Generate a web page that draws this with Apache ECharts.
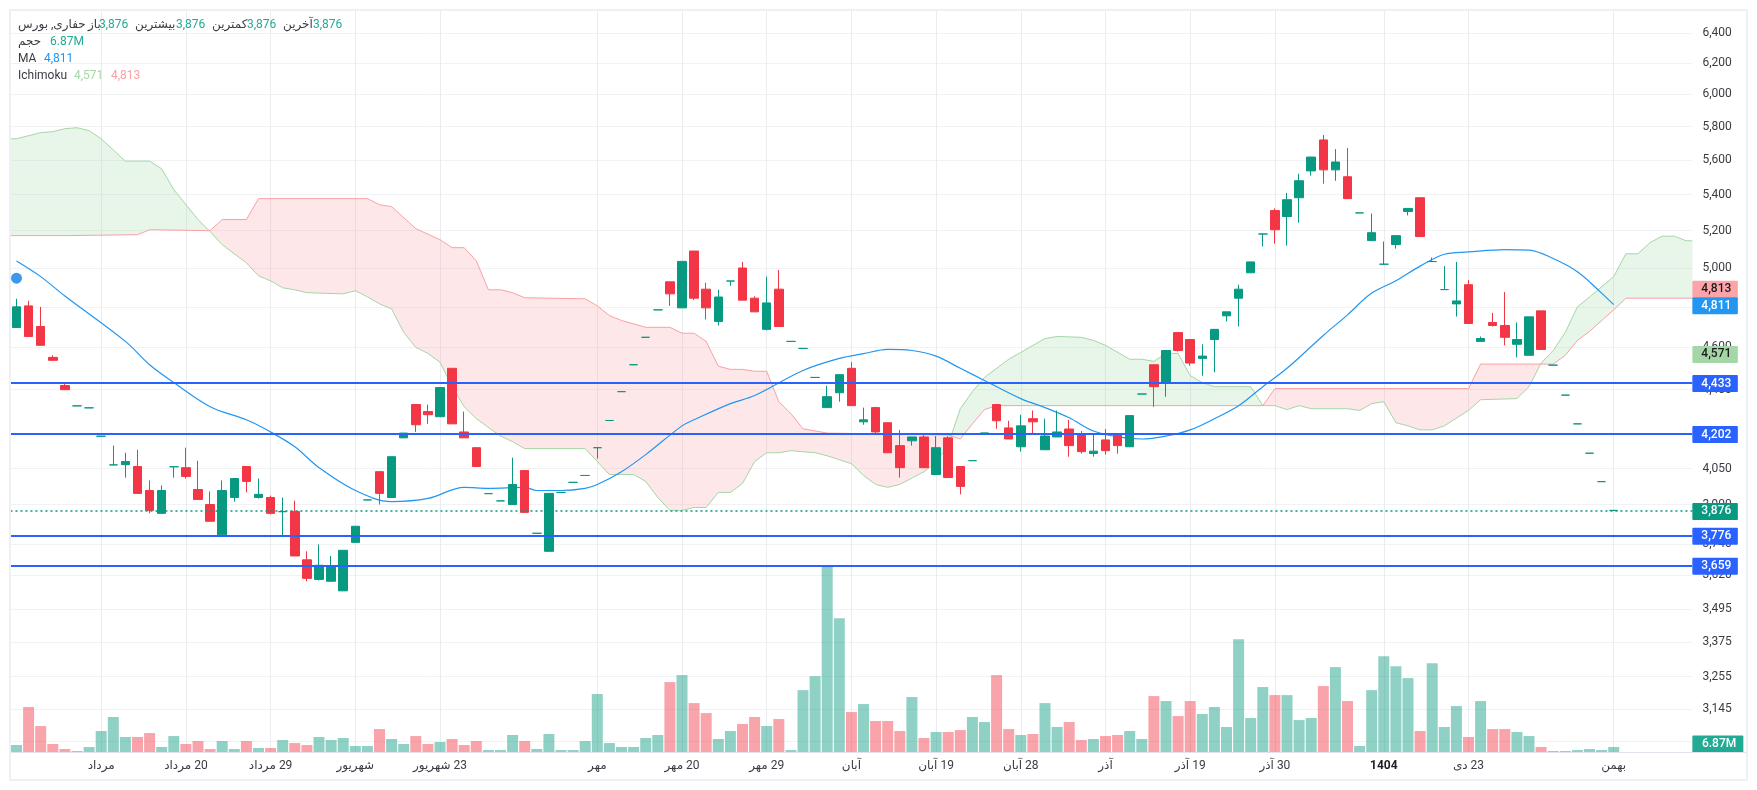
<!DOCTYPE html>
<html dir="rtl">
<head>
<meta charset="utf-8">
<script src="https://cdn.jsdelivr.net/npm/echarts@6.0.0/dist/echarts.min.js"></script>
<style>
  html, body { margin: 0; padding: 0; background: #fff; }
  #chart { width: 1757px; height: 790px; }
</style>
</head>
<body>
<div id="chart"></div>
<script>
// x axis: 139 slots, 133 candles and the rest is cloud running ahead of price
const slotCount = 139
const tickIndex = [7, 14, 21, 28, 35, 48, 55, 62, 69, 76, 83, 90, 97, 104, 113, 120, 132]
const tickLabels = ['مرداد', '20 مرداد', '29 مرداد', 'شهریور', '23 شهریور', 'مهر', '20 مهر', '29 مهر', 'آبان', '19 آبان', '28 آبان', 'آذر', '19 آذر', '30 آذر', '1404', '23 دی', 'بهمن']
const priceTicks = [6400, 6200, 6000, 5800, 5600, 5400, 5200, 5000, 4800, 4600, 4400, 4200, 4050, 3900, 3740, 3620, 3495, 3375, 3255, 3145, 3040]

const opens = [4697, 4805, 4702, 4552, 4419, 4326, 4317, 4190, 4066, 4067, 4059, 3958, 3864, 4058, 4054, 3962, 3900, 3778, 3929, 4059,
  3929, 3929, 3871, 3872, 3680, 3605, 3598, 3562, 3748, 3919, 4037, 3929, 4183, 4332, 4300, 4277, 4500, 4209, 4140, 3945,
  3915, 3900, 4042, 3784, 3713, 3950, 3992, 4021, 4140, 4260, 4391, 4517, 4649, 4785, 4928, 4795, 5090, 4890, 4727, 4932,
  5000, 4844, 4688, 4890, 4629, 4595, 4457, 4318, 4386, 4500, 4254, 4318, 4250, 4149, 4170, 4187, 4025, 4183, 4059, 4084,
  4204, 4332, 4227, 4144, 4268, 4131, 4187, 4222, 4196, 4115, 4174, 4200, 4144, 4380, 4517, 4433, 4672, 4638, 4547, 4638,
  4755, 4844, 4975, 5182, 5311, 5278, 5383, 5537, 5720, 5543, 5503, 5298, 5146, 5020, 5125, 5306, 5383, 5034, 4888, 4815,
  4913, 4629, 4722, 4707, 4615, 4562, 4780, 4515, 4375, 4245, 4116, 3995, 3876]
const closes = [4800, 4653, 4610, 4538, 4400, 4326, 4317, 4190, 4066, 4080, 3946, 3876, 3958, 4058, 4017, 3921, 3832, 3958, 4008, 3996,
  3942, 3864, 3871, 3695, 3609, 3659, 3652, 3717, 3812, 3919, 3946, 4101, 4204, 4241, 4286, 4410, 4245, 4183, 4059, 3945,
  3915, 3983, 3868, 3784, 3946, 3950, 3992, 4021, 4140, 4260, 4391, 4517, 4649, 4785, 4866, 5035, 4844, 4795, 4850, 4932,
  4834, 4775, 4820, 4702, 4629, 4595, 4457, 4368, 4470, 4327, 4263, 4209, 4118, 4054, 4187, 4054, 4140, 4012, 3975, 4084,
  4204, 4259, 4178, 4236, 4254, 4191, 4209, 4149, 4123, 4125, 4127, 4149, 4282, 4380, 4414, 4585, 4585, 4525, 4558, 4688,
  4775, 4890, 5032, 5182, 5205, 5372, 5480, 5618, 5543, 5589, 5378, 5298, 5189, 5020, 5173, 5323, 5168, 5034, 4888, 4830,
  4717, 4643, 4707, 4649, 4638, 4750, 4590, 4515, 4375, 4245, 4116, 3995, 3876]
const lows = [4697, 4653, 4610, 4538, 4400, 4326, 4317, 4190, 4066, 4012, 3946, 3864, 3864, 4012, 4008, 3921, 3832, 3778, 3912, 3950,
  3925, 3860, 3777, 3695, 3598, 3601, 3598, 3562, 3748, 3919, 3900, 3929, 4183, 4209, 4245, 4277, 4245, 4183, 4059, 3945,
  3915, 3900, 3868, 3784, 3713, 3950, 3992, 4021, 4093, 4260, 4391, 4517, 4649, 4785, 4805, 4795, 4834, 4737, 4707, 4908,
  4834, 4775, 4683, 4702, 4629, 4595, 4457, 4318, 4345, 4327, 4241, 4200, 4118, 4012, 4149, 4054, 4025, 4012, 3942, 4084,
  4204, 4223, 4178, 4123, 4200, 4131, 4187, 4101, 4114, 4101, 4110, 4114, 4144, 4380, 4322, 4368, 4580, 4512, 4465, 4481,
  4727, 4702, 4975, 5114, 5130, 5119, 5244, 5509, 5463, 5480, 5378, 5298, 5146, 5020, 5103, 5284, 5168, 5034, 4888, 4751,
  4717, 4629, 4702, 4610, 4552, 4562, 4590, 4515, 4375, 4245, 4116, 3995, 3876]
const highs = [4841, 4831, 4800, 4562, 4428, 4326, 4317, 4190, 4149, 4118, 4131, 4000, 3979, 4058, 4140, 4084, 3954, 4000, 4008, 4059,
  4008, 3937, 3929, 3916, 3713, 3740, 3695, 3717, 3812, 3919, 4037, 4101, 4204, 4332, 4332, 4410, 4500, 4300, 4140, 3945,
  3915, 4097, 4042, 3784, 3946, 3950, 3992, 4021, 4140, 4260, 4391, 4517, 4649, 4785, 4928, 5035, 5090, 4923, 4887, 4932,
  5032, 4854, 4955, 4990, 4629, 4595, 4457, 4418, 4470, 4530, 4318, 4322, 4250, 4218, 4187, 4200, 4191, 4191, 4059, 4084,
  4204, 4332, 4259, 4286, 4305, 4268, 4305, 4263, 4213, 4200, 4222, 4200, 4282, 4380, 4517, 4585, 4672, 4638, 4615, 4688,
  4775, 4913, 5032, 5182, 5323, 5411, 5520, 5618, 5750, 5665, 5672, 5298, 5294, 5141, 5173, 5323, 5383, 5055, 5010, 5032,
  4938, 4653, 4770, 4875, 4722, 4750, 4780, 4515, 4375, 4245, 4116, 3995, 3876]

// volume in millions
const volumes = [9.6, 61.7, 35.6, 11, 4.1, 1.4, 6.9, 28.8, 48, 20.6,
  20.6, 26, 6.9, 21.9, 11, 15.1, 4.1, 15.1, 4.1, 15.1,
  5.5, 5.5, 16.4, 12.3, 9.6, 20.6, 16.4, 19.2, 8.2, 8.2,
  31.5, 17.8, 11, 21.9, 11, 13.7, 17.8, 9.6, 15.1, 2.7,
  2.7, 23.3, 15.1, 4.1, 24.7, 2.7, 2.7, 15.1, 79.5, 12.3,
  6.9, 6.9, 19.2, 23.3, 95.9, 105.5, 67.1, 53.4, 17.8, 28.8,
  38.4, 48, 35.6, 45.2, 2.7, 84.9, 104.1, 253.9, 183.6, 54.8,
  65.8, 42.5, 42.5, 28.8, 75.4, 19.2, 27.4, 27.4, 30.1, 48,
  41.1, 105.5, 31.5, 23.3, 24.7, 67.1, 34.3, 41.1, 16.4, 17.8,
  21.9, 23.3, 28.8, 17.8, 76.7, 69.9, 49.3, 69.9, 52.1, 61.7,
  34.3, 154.8, 46.6, 89.1, 78.1, 78.1, 43.8, 46.6, 90.4, 116.5,
  69.9, 8.2, 84.9, 131.5, 117.8, 101.4, 28.8, 121.9, 34.3, 63,
  20.6, 69.9, 31.5, 31.5, 27.4, 21.9, 6.9, 1.4, 1.4, 2.7, 4.1, 2.7, 6.87]

// moving average, [slot, price]
const maPoints = [[0, 5037], [2, 4955], [4, 4855], [9, 4629], [11, 4517], [13, 4433], [16, 4322], [19, 4263], [21, 4209], [23, 4144],
  [25, 4054], [28, 3958], [31, 3912], [34, 3925], [37, 3971], [39, 3967], [42, 3971], [43, 3958], [45, 3958], [47, 3967],
  [48, 3983], [50, 4037], [52, 4110], [55, 4236], [56, 4263], [59, 4336], [61, 4373], [65, 4490], [68, 4547], [70, 4570],
  [72, 4590], [74, 4585], [76, 4558], [78, 4500], [80, 4443], [83, 4359], [85, 4318], [87, 4272], [89, 4213], [91, 4187],
  [93, 4178], [95, 4191], [97, 4218], [99, 4268], [101, 4326], [103, 4414], [105, 4500], [108, 4658], [110, 4760], [112, 4870],
  [114, 4933], [116, 5010], [118, 5073], [120, 5085], [123, 5098], [125, 5095], [127, 5050], [129, 4980], [131, 4870], [132, 4811]]

// ichimoku span lines, [slot, price]
const spanA = [[0, 5727], [2, 5764], [3, 5770], [4, 5788], [5, 5794], [6, 5776], [7, 5727], [9, 5594], [11, 5594], [12, 5549],
  [13, 5429], [15, 5261], [16, 5195], [17, 5124], [19, 5027], [20, 4959], [21, 4933], [22, 4897], [23, 4887], [24, 4872],
  [27, 4866], [28, 4882], [29, 4851], [30, 4815], [31, 4790], [32, 4673], [33, 4600], [34, 4571], [35, 4529], [36, 4414],
  [37, 4322], [38, 4268], [40, 4191], [41, 4166], [42, 4136], [47, 4136], [48, 4080], [49, 4025], [51, 4025], [52, 3996],
  [53, 3929], [54, 3876], [55, 3876], [56, 3888], [57, 3888], [58, 3950], [59, 3950], [60, 3987], [61, 4080], [62, 4118],
  [63, 4118], [64, 4127], [66, 4118], [67, 4105], [69, 4071], [70, 4021], [71, 3983], [72, 3971], [73, 3983], [75, 4037],
  [76, 4076], [77, 4153], [78, 4313], [79, 4391], [80, 4457], [82, 4543], [83, 4576], [85, 4643], [86, 4653], [88, 4649],
  [89, 4634], [90, 4610], [92, 4543], [93, 4543], [94, 4533], [95, 4571], [96, 4571], [97, 4466], [98, 4433], [99, 4414],
  [102, 4414], [103, 4327], [104, 4327], [105, 4309], [106, 4327], [107, 4313], [110, 4313], [111, 4305], [112, 4336], [113, 4345],
  [114, 4250], [115, 4236], [116, 4218], [117, 4218], [118, 4236], [120, 4305], [121, 4354], [124, 4359], [125, 4414], [126, 4525],
  [127, 4585], [128, 4673], [129, 4800], [130, 4850], [132, 4955], [133, 5075], [134, 5075], [135, 5135], [136, 5170], [137, 5170], [138, 5145]]
const spanB = [[0, 5173], [4, 5173], [10, 5178], [11, 5205], [16, 5200], [17, 5261], [19, 5261], [20, 5378], [29, 5378], [30, 5344],
  [31, 5333], [33, 5211], [35, 5151], [36, 5108], [37, 5108], [38, 5038], [39, 4887], [40, 4887], [41, 4872], [42, 4846],
  [47, 4841], [48, 4805], [49, 4756], [50, 4732], [52, 4698], [54, 4698], [55, 4669], [56, 4669], [57, 4629], [58, 4510],
  [59, 4495], [60, 4495], [61, 4486], [62, 4486], [63, 4345], [64, 4291], [65, 4223], [67, 4204], [77, 4196], [78, 4178],
  [79, 4245], [80, 4309], [81, 4327], [103, 4327], [104, 4405], [120, 4405], [121, 4520], [127, 4520], [128, 4562], [129, 4634],
  [130, 4678], [132, 4785], [133, 4844], [138, 4844]]

const levels = [4433, 4202, 3776, 3659]
const lastPrice = 3876
const lastVolume = 6.87
const eventMarker = [[0, 4947]]

// price tags on the right scale
const tagPrices = [4813, 4811, 4571, 4433, 4202, 3876, 3776, 3659]
const tagFills = ['#FCA4A9', '#2196F3', '#A5D6A7', '#2962FF', '#2962FF', '#089981', '#2962FF', '#2962FF']
const tagInks = ['#1a1a1a', '#fff', '#1a1a1a', '#fff', '#fff', '#fff', '#fff', '#fff']
const tagShift = [-16, 0, 0, 0, 0, 0, 0, 0]

// header rows: text, left edge, row centre, colour
const inkColor = '#3b3b43'
const upText = '#22AB94'
const headerRows = [
  ['حفاری, بورس', 18, 25, inkColor], ['باز', 88, 25, inkColor], ['3,876', 99, 25, upText],
  ['بیشترین', 135, 25, inkColor], ['3,876', 176, 25, upText],
  ['کمترین', 212, 25, inkColor], ['3,876', 247, 25, upText],
  ['آخرین', 283, 25, inkColor], ['3,876', 313, 25, upText],
  ['حجم', 18, 42, inkColor], ['6.87M', 50, 42, upText],
  ['MA', 18, 59, inkColor], ['4,811', 44, 59, '#2196F3'],
  ['Ichimoku', 18, 76, inkColor], ['4,571', 74, 76, '#A5D6A7'], ['4,813', 111, 76, '#FAA1A4']
]

const categories = Array.from({ length: slotCount }, (_, i) => {
  const at = tickIndex.indexOf(i)
  return at >= 0 ? tickLabels[at] : ''
})
const isTick = (i) => tickIndex.includes(i)

const upColor = '#089981'
const downColor = '#F23645'
const fontName = 'Roboto, "DejaVu Sans", sans-serif'

const myChart = echarts.init(document.getElementById('chart'))

function renderCloud (params, api) {
  const half = params.coordSys.width / slotCount / 2
  const toPixels = (line) => {
    const pts = line.map((p) => api.coord(p))
    const last = pts[pts.length - 1]
    return [[pts[0][0] - half, pts[0][1]], ...pts, [last[0] + half, last[1]]]
  }
  const a = toPixels(spanA)
  const b = toPixels(spanB)
  const yAt = (line, x) => {
    for (let j = 1; j < line.length; j++) {
      if (x <= line[j][0]) {
        const t = (x - line[j - 1][0]) / (line[j][0] - line[j - 1][0])
        return line[j - 1][1] + t * (line[j][1] - line[j - 1][1])
      }
    }
    return line[line.length - 1][1]
  }
  // lower edge of the band, with the crossings of the two spans included
  const xs = [...new Set([...a, ...b].map((p) => p[0]))].sort((m, n) => m - n)
  const all = []
  xs.forEach((x, i) => {
    all.push(x)
    if (i < xs.length - 1) {
      const d0 = yAt(a, x) - yAt(b, x)
      const d1 = yAt(a, xs[i + 1]) - yAt(b, xs[i + 1])
      if (d0 * d1 < 0) all.push(x + (xs[i + 1] - x) * d0 / (d0 - d1))
    }
  })
  const lower = all.map((x) => [x, Math.max(yAt(a, x), yAt(b, x))]).reverse()
  return {
    type: 'group',
    silent: true,
    children: [
      { type: 'polygon', shape: { points: a.concat(lower) }, style: { fill: 'rgba(165,214,167,0.25)' } },
      { type: 'polygon', shape: { points: b.concat(lower) }, style: { fill: 'rgba(250,161,164,0.25)' } },
      { type: 'polyline', shape: { points: a }, style: { fill: 'none', stroke: '#A5D6A7', lineWidth: 1 } },
      { type: 'polyline', shape: { points: b }, style: { fill: 'none', stroke: '#FAA1A4', lineWidth: 1 } }
    ]
  }
}

function tagShape (params, y, w, label, fill, ink) {
  const x = params.coordSys.x + params.coordSys.width
  return {
    type: 'group',
    silent: true,
    children: [
      { type: 'rect', shape: { x, y: y - 7.5, width: w, height: 17, r: 1 }, style: { fill } },
      {
        type: 'text',
        style: {
          x: x + 2.5 + (w - 2.5) / 2,
          y: y + 1,
          text: label,
          fill: ink,
          font: '500 12px ' + fontName,
          textAlign: 'center',
          textVerticalAlign: 'middle'
        }
      }
    ]
  }
}

const option = {
  animation: false,
  backgroundColor: '#fff',
  textStyle: { fontFamily: fontName },
  grid: { left: 10.45, top: 11, width: 1681.9, height: 741, containLabel: false },
  xAxis: {
    type: 'category',
    data: categories,
    boundaryGap: true,
    axisLine: { show: false },
    axisTick: { show: false },
    axisLabel: {
      interval: (i) => isTick(i),
      color: inkColor,
      fontSize: 12,
      fontFamily: fontName,
      margin: 8,
      formatter: (v) => (v === '1404' ? '{b|1404}' : v),
      rich: { b: { fontWeight: 'bold', fontSize: 12, color: '#1f1f26', fontFamily: fontName } }
    },
    splitLine: {
      show: true,
      alignWithLabel: true,
      interval: (i) => isTick(i),
      lineStyle: { color: '#ebecef', width: 1 }
    }
  },
  yAxis: [
    {
      type: 'log',
      position: 'right',
      min: 3007.3,
      max: 6549.6,
      axisLine: { show: false },
      axisTick: { show: false, customValues: priceTicks },
      axisLabel: {
        customValues: priceTicks,
        color: inkColor,
        fontSize: 12,
        fontFamily: fontName,
        align: 'right',
        margin: 39.5,
        padding: [3, 0, 0, 0],
        formatter: (v) => Math.round(v).toLocaleString('en-US')
      },
      splitLine: { show: true, lineStyle: { color: '#f1f2f4', width: 1 } }
    },
    { type: 'value', min: 0, max: 1016.5, show: false, splitLine: { show: false } }
  ],
  series: [
    {
      type: 'custom',
      name: 'Ichimoku',
      z: 1,
      silent: true,
      clip: true,
      data: [[0, 5000]],
      encode: { x: 0, y: 1 },
      renderItem: renderCloud
    },
    {
      type: 'bar',
      name: 'حجم',
      yAxisIndex: 1,
      z: 1,
      barWidth: 11,
      silent: true,
      data: volumes.map((v, i) => ({
        value: v,
        itemStyle: { color: closes[i] >= opens[i] ? upColor : downColor, opacity: 0.45 }
      }))
    },
    {
      type: 'line',
      name: 'levels',
      z: 2,
      silent: true,
      data: [],
      markLine: {
        silent: true,
        symbol: 'none',
        animation: false,
        label: { show: false },
        data: levels.map((v) => ({ yAxis: v, lineStyle: { color: '#2962FF', width: 2, type: 'solid' } }))
          .concat([{ yAxis: lastPrice, lineStyle: { color: upColor, width: 1.6, type: [2, 3] } }])
      }
    },
    {
      type: 'line',
      name: 'MA',
      z: 3,
      silent: true,
      showSymbol: false,
      symbol: 'none',
      smooth: 0.35,
      lineStyle: { color: '#2196F3', width: 1.2 },
      data: maPoints
    },
    {
      type: 'candlestick',
      z: 4,
      silent: true,
      barWidth: 9,
      itemStyle: {
        color: upColor,
        color0: downColor,
        borderColor: upColor,
        borderColor0: downColor,
        borderColorDoji: upColor,
        borderWidth: 1
      },
      data: opens.map((o, i) => [o, closes[i], lows[i], highs[i]])
    },
    {
      type: 'scatter',
      z: 5,
      silent: true,
      symbol: 'circle',
      symbolSize: 11,
      itemStyle: { color: '#0a7fe8' },
      data: eventMarker
    },
    {
      type: 'custom',
      name: 'tags',
      z: 10,
      silent: true,
      clip: false,
      data: tagPrices.map((p) => [slotCount - 1, p]),
      encode: { x: 0, y: 1 },
      renderItem: (params, api) => {
        const i = params.dataIndex
        const y = api.coord([api.value(0), api.value(1)])[1] + tagShift[i]
        return tagShape(params, y, 45.5, tagPrices[i].toLocaleString('en-US'), tagFills[i], tagInks[i])
      }
    },
    {
      type: 'custom',
      name: 'volume tag',
      yAxisIndex: 1,
      z: 10,
      silent: true,
      clip: false,
      data: [[slotCount - 1, lastVolume]],
      encode: { x: 0, y: 1 },
      renderItem: (params, api) => {
        const y = api.coord([api.value(0), api.value(1)])[1] - 4
        return tagShape(params, y, 51, lastVolume + 'M', '#22AB94', '#fff')
      }
    }
  ],
  graphic: {
    elements: [
      {
        type: 'line',
        z: 20,
        silent: true,
        shape: { x1: 10, y1: 752.5, x2: 1746, y2: 752.5 },
        style: { stroke: '#e0e3eb', lineWidth: 1 }
      },
      {
        type: 'rect',
        z: 20,
        silent: true,
        shape: { x: 10, y: 10, width: 1737, height: 770 },
        style: { fill: 'none', stroke: '#eef0f5', lineWidth: 2 }
      }
    ].concat(headerRows.map((r) => ({
      type: 'text',
      z: 21,
      silent: true,
      style: {
        text: r[0],
        x: r[1],
        y: r[2],
        fill: r[3],
        font: '12px ' + fontName,
        textAlign: 'left',
        textVerticalAlign: 'middle'
      }
    })))
  }
}

myChart.setOption(option)
</script>
</body>
</html>
